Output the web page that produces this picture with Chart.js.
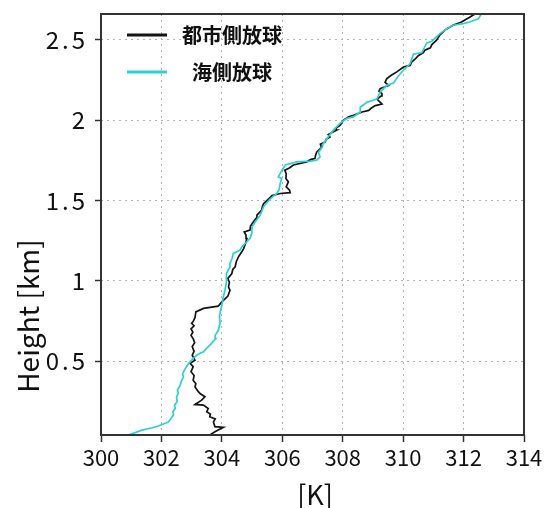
<!DOCTYPE html>
<html><head><meta charset="utf-8">
<script src="https://cdn.jsdelivr.net/npm/chart.js@4/dist/chart.umd.min.js"></script>
<style>html,body{margin:0;padding:0;background:#fff;} canvas{display:block;}</style>
</head><body>
<canvas id="c" width="546" height="508"></canvas>
<script>
const seriesNames = ['都市側放球', '海側放球'];
const cityHeight = [0.034,0.06,0.088,0.092,0.12,0.14,0.154,0.17,0.185,0.205,0.226,0.23,0.257,0.278,0.295,0.31,0.34,0.36,0.38,0.41,0.434,0.465,0.486,0.506,0.537,0.56,0.59,0.615,0.64,0.66,0.68,0.70,0.72,0.734,0.75,0.77,0.806,0.828,0.842,0.869,0.905,0.94,0.962,0.99,1.014,1.045,1.07,1.086,1.12,1.149,1.18,1.2,1.23,1.263,1.285,1.304,1.315,1.34,1.366,1.39,1.408,1.44,1.46,1.48,1.51,1.53,1.543,1.548,1.563,1.584,1.615,1.636,1.667,1.688,1.70,1.72,1.74,1.755,1.76,1.78,1.80,1.83,1.85,1.864,1.88,1.895,1.91,1.937,1.95,1.968,2.0,2.02,2.03,2.05,2.06,2.075,2.09,2.10,2.115,2.13,2.15,2.165,2.18,2.196,2.215,2.235,2.258,2.28,2.30,2.33,2.34,2.36,2.38,2.40,2.42,2.435,2.45,2.47,2.496,2.53,2.56,2.59,2.61,2.64,2.665];
const cityTemp = [303.55,303.77,304.05,303.77,303.72,303.78,303.6,303.62,303.5,303.55,303.39,303.11,303.33,303.44,303.30,303.22,303.11,303.14,303.05,303.08,302.98,303.05,302.95,303.11,303.02,303.08,303.02,303.10,303.05,302.98,303.04,302.98,303.08,303.0,303.06,303.11,303.14,303.39,303.88,304.0,304.2,304.27,304.22,304.25,304.2,304.33,304.36,304.44,304.48,304.55,304.66,304.72,304.78,304.83,304.80,304.74,304.93,304.95,305.04,305.14,305.16,305.32,305.34,305.38,305.55,305.66,305.93,306.26,306.24,306.13,306.2,306.12,306.13,306.08,306.22,306.37,306.81,306.95,307.08,307.1,307.14,307.3,307.26,307.42,307.45,307.58,307.52,307.8,307.78,307.92,308.03,308.2,308.36,308.64,308.86,308.95,309.08,309.3,309.22,309.13,309.28,309.3,309.2,309.24,309.52,309.40,309.46,309.62,309.79,310.01,310.23,310.28,310.4,310.5,310.67,310.72,310.9,310.95,311.1,311.22,311.38,311.65,311.93,312.2,312.42];
const seaHeight = [0.035,0.07,0.085,0.096,0.12,0.164,0.185,0.206,0.225,0.247,0.275,0.30,0.32,0.35,0.375,0.40,0.42,0.45,0.486,0.527,0.545,0.558,0.58,0.61,0.64,0.66,0.69,0.734,0.78,0.838,0.87,0.90,0.94,0.98,1.024,1.045,1.086,1.108,1.14,1.17,1.19,1.21,1.263,1.294,1.335,1.37,1.408,1.46,1.51,1.543,1.57,1.605,1.636,1.646,1.688,1.72,1.74,1.745,1.75,1.77,1.80,1.83,1.854,1.895,1.937,1.978,2.01,2.02,2.05,2.08,2.11,2.12,2.13,2.175,2.216,2.23,2.27,2.31,2.35,2.41,2.42,2.48,2.49,2.54,2.57,2.59,2.60,2.61,2.63,2.665];
const seaTemp = [300.85,301.35,301.7,301.9,302.23,302.4,302.38,302.46,302.43,302.52,302.50,302.56,302.53,302.62,302.66,302.73,302.70,302.78,302.9,303.11,303.25,303.39,303.50,303.66,303.8,303.78,303.88,303.94,303.92,303.99,304.02,304.05,304.1,304.14,304.16,304.14,304.27,304.27,304.34,304.38,304.6,304.66,304.93,304.99,305.0,305.12,305.27,305.38,305.6,305.82,305.90,305.93,305.98,305.87,305.99,306.1,306.48,306.92,307.14,307.25,307.2,307.32,307.36,307.52,307.69,307.9,308.13,308.35,308.58,308.58,308.8,308.96,309.13,309.24,309.46,309.68,309.82,310.01,310.23,310.34,310.62,310.78,310.95,311.23,311.45,311.65,311.99,312.2,312.49,312.6];
const xTicks = [300,302,304,306,308,310,312,314];
const yTicks = [0.5,1,1.5,2,2.5];
const xTitle = '[K]';
const yTitle = 'Height [km]';
const FONT = '"Noto Sans CJK JP", "Noto Sans", sans-serif';

function pts(xs, ys){ return xs.map((x,i)=>({x:x, y:ys[i]})); }

const decor = {
  id:'decor',
  afterDatasetsDraw(chart){
    const {ctx, chartArea:a} = chart;
    ctx.save();
    ctx.strokeStyle='#333'; ctx.lineWidth=2;
    ctx.strokeRect(a.left, a.top, a.right-a.left, a.bottom-a.top);
    ctx.restore();
  },
  afterDraw(chart){
    const {ctx, scales, chartArea:a} = chart;
    const y = scales.y;
    ctx.save();
    ctx.fillStyle='#111';
    ctx.font = '24px ' + FONT;
    ctx.letterSpacing = '3px';
    ctx.textAlign='right'; ctx.textBaseline='middle';
    y.ticks.forEach(t=>{ ctx.fillText(String(t.value), a.left-13, y.getPixelForValue(t.value)); });
    ctx.letterSpacing = '0px';
    ctx.save();
    ctx.translate(28, 316); ctx.rotate(-Math.PI/2);
    ctx.font = '28px ' + FONT; ctx.textAlign='center'; ctx.textBaseline='middle';
    ctx.fillText(yTitle, 0, 0);
    ctx.restore();
    ctx.font = '27px ' + FONT; ctx.textAlign='center'; ctx.textBaseline='middle';
    ctx.fillText(xTitle, 315, 495);
    const ds = chart.data.datasets;
    const rows = [a.top+21, a.top+58];
    const textX = [a.left+81, a.left+91];
    ds.forEach((d,i)=>{
      ctx.strokeStyle = d.borderColor; ctx.lineWidth = 3;
      ctx.beginPath(); ctx.moveTo(a.left+26, rows[i]); ctx.lineTo(a.left+66, rows[i]); ctx.stroke();
      ctx.fillStyle = '#111';
      ctx.font = 'bold 20px ' + FONT; ctx.textAlign='left'; ctx.textBaseline='middle';
      ctx.fillText(d.label, textX[i], rows[i]);
    });
    ctx.restore();
  }
};

new Chart(document.getElementById('c'), {
  type: 'scatter',
  data: {
    datasets: [
      { label: seriesNames[0], data: pts(cityTemp, cityHeight), showLine: true, borderColor: '#141414', borderWidth: 1.7, pointRadius: 0, tension: 0, order: 2 },
      { label: seriesNames[1], data: pts(seaTemp, seaHeight), showLine: true, borderColor: '#2fcfcf', borderWidth: 1.7, pointRadius: 0, tension: 0, order: 1 }
    ]
  },
  options: {
    responsive: false,
    animation: false,
    layout: { padding: { left: 0, top: 14, right: 22, bottom: 0 } },
    plugins: { legend: { display: false }, tooltip: { enabled: false } },
    scales: {
      x: {
        type: 'linear', min: 300, max: 314,
        afterBuildTicks: s => { s.ticks = xTicks.map(v => ({value: v})); },
        afterFit: s => { s.height = 73; },
        ticks: { color: '#111', font: { family: FONT, size: 22 }, padding: 2, maxRotation: 0 },
        grid: { color: '#b0b0b0', lineWidth: 1, tickColor: '#333', tickLength: 7, tickWidth: 1.5, tickBorderDash: [] },
        border: { display: false, dash: [2, 4] }
      },
      y: {
        type: 'linear', min: 0.04, max: 2.66,
        afterBuildTicks: s => { s.ticks = yTicks.map(v => ({value: v})); },
        afterFit: s => { s.width = 101; },
        ticks: { display: false },
        grid: { color: '#b0b0b0', lineWidth: 1, tickColor: '#333', tickLength: 6, tickWidth: 1.5, tickBorderDash: [] },
        border: { display: false, dash: [2, 4] }
      }
    }
  },
  plugins: [decor]
});
</script>
</body></html>
